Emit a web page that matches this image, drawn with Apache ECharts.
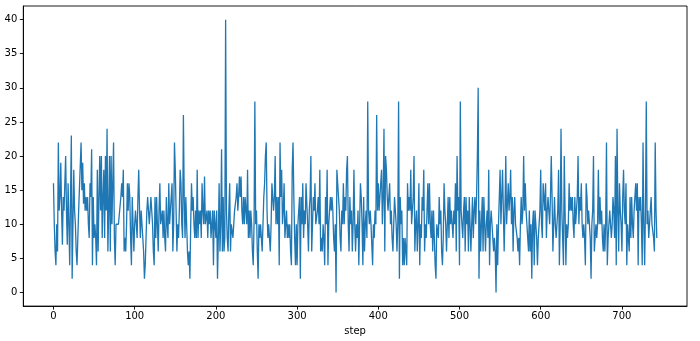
<!DOCTYPE html>
<html>
<head>
<meta charset="utf-8">
<script src="https://cdn.jsdelivr.net/npm/echarts@6/dist/echarts.min.js"></script>
<style>html,body{margin:0;padding:0;background:#fff}#c{width:700px;height:341px}</style>
</head>
<body>
<div id="c"></div>
<script>
// values per step (steps 0..743)
const seg0 = [16,10,6,4,10,6,22,12,14,19,12,7,14,12,16,20,12,7,16,10,4,14,23,2,10,18,12,10,6,4,8,12,12,12,22,15,19,13,16,12,14,12,14,10,8,16,14,21,4,14,8,10,8,4,18,6,14,20,12,20,8,14,18,8,20,12,24,6,12,20,6,20,10,16,22,8,4,10,10,10,10];
const seg1 = [10,10,14,16,14,18,6,8,6,10,16,12,16,14,8,4,14,10,6,10,12,12,8,14,18,12,8,12,10,8,6,2,4,8,12,14,12,10,12,14,14,10,6,4,14,8,14,10,6,12,16,10,10,12,8,12,8,6,14,10,8,16,10,12,12,16,6,10,22,18,12];
const seg2 = [6,10,8,12,18,16,10,8,26,14,8,14,10,6,4,6,2,10,16,12,14,10,8,12,8,18,8,12,10,12,8,16,12,10,17,10,10,12,8,12,10,12,8,10,12,4,12,10,8,12,2,8,16,6,10,21,6,14,6,8,40,12,8,6,12,16,6,10,10,8,10,12,12,14,16,12,14,17,14,17];
const seg3 = [12,10,14,10,14,12,10,18,8,12,8,12,10,6,4,10,28,10,12,6,2,10,8,10,8,6,10,14,16,20,22,12,8,10,8,6,10,16,14,12,14,20,10,14,10,14,4,22,14,18,10,12,16,8,10,12,8,10,8,10,6,4,18,22,14,8,4,10,4,10,12,14,2,14,10,16,8,12,10,16];
const seg4 = [16,10,6,12,14,20,6,10,14,12,16,10,10,12,14,10,18,6,8,6,10,8,4,14,10,18,4,10,10,14,12,14,12,8,6,10,0,18,18,14,12,8,6,12,10,16,10,14,12,18,20,10,6,14,10,12,6,10,18,10,6,10,8,12,4,10,16,14,10,4,14,6,10,12,8,28,12,10,12];
const seg5 = [10,10,4,10,8,12,10,26,12,16,12,14,16,18,10,14,24,6,20,18,14,12,14,16,10,12,8,6,10,14,12,10,6,10,28,2,14,10,12,4,8,4,8,6,4,16,12,14,12,18,10,10,14,20,6,10,12,6,10,16,4,10,8,14,12,18,6,10,8,12,16,10,16,10,8,12,6,12,12,4];
const seg6 = [2,10,10,8,14,10,12,6,4,8,16,12,10,6,10,14,8,14,10,12,10,8,12,10,16,6,20,12,14,4,28,12,10,8,12,14,6,14,10,12,6,14,10,6,10,14,8,12,14,10,14,20,30,2,12,6,10,14,6,14,10,6,10,12,8,18,4,10,12,10,8,6,8,6,0,10,4,10,14,18];
const seg7 = [10,14,18,12,6,12,20,10,10,16,12,14,18,10,14,6,12,14,10,10,8,6,8,4,10,14,10,12,20,12,16,12,10,8,6,12,6,10,2,10,12,4,12,10,8,4,8,10,12,18,10,8,16,14,12,16,8,12,14,12,10,14,20,14,6,10,14,10,8,10,12,18,4,10,24,12,8,4,20,12];
const seg8 = [4,10,8,10,16,12,14,12,14,10,8,14,10,12,14,20,10,14,12,16,10,8,10,8,4,16,14,10,12,10,8,2,10,12,20,6,8,10,8,10,18,10,14,10,12,8,6,10,6,10,22,4,8,10,12,10,8,10,14,12,8,20,4,24,12,6,16,12,10,6,14,18,12,10,16,4,10,8,6,14];
const seg9 = [8,14,10,8,12,14,16,12,16,4,14,12,14,10,4,22,10,4,12,28,10,12,8,10,12,14,10,10,8,6,22,12,8];
const values = [].concat(seg0, seg1, seg2, seg3, seg4, seg5, seg6, seg7, seg8, seg9);
const xTicks = [0,100,200,300,400,500,600,700];
const yTicks = [0,5,10,15,20,25,30,35,40];

const n = values.length;
const xPad = (n - 1) * 0.05;
const chart = echarts.init(document.getElementById('c'), null, {renderer: 'canvas'});
const font = 'DejaVu Sans';
chart.setOption({
  animation: false,
  backgroundColor: '#fff',
  grid: {left: 23.3, right: 13, top: 6, bottom: 33, show: true, borderColor: '#000', borderWidth: 0.9, containLabel: false},
  xAxis: {
    type: 'value', min: -xPad, max: (n - 1) + xPad,
    name: 'step', nameLocation: 'middle', nameGap: 16,
    nameTextStyle: {fontFamily: font, fontSize: 10, color: '#000'},
    splitLine: {show: false},
    axisLine: {show: true, onZero: false, lineStyle: {color: '#000', width: 0.9}},
    axisTick: {show: true, inside: false, length: 3.5, lineStyle: {color: '#000', width: 0.9}, customValues: xTicks},
    axisLabel: {fontFamily: font, fontSize: 10, color: '#000', margin: 5, customValues: xTicks, showMinLabel: true, showMaxLabel: true}
  },
  yAxis: {
    type: 'value', min: -2, max: 42,
    splitLine: {show: false},
    axisLine: {show: true, onZero: false, lineStyle: {color: '#000', width: 0.9}},
    axisTick: {show: true, inside: false, length: 3.5, lineStyle: {color: '#000', width: 0.9}, customValues: yTicks},
    axisLabel: {fontFamily: font, fontSize: 10, color: '#000', margin: 6, customValues: yTicks}
  },
  series: [{
    type: 'line',
    data: values.map((v, i) => [i, v]),
    showSymbol: false,
    symbol: 'none',
    lineStyle: {color: '#1f77b4', width: 1.3},
    emphasis: {disabled: true}
  }]
});
</script>
</body>
</html>
